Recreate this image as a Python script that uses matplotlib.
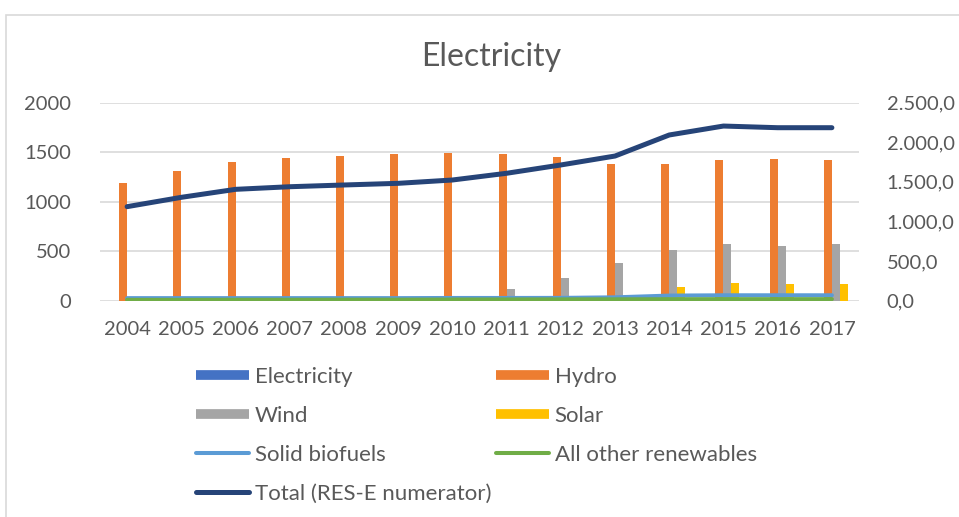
import matplotlib
matplotlib.use("Agg")
import matplotlib.pyplot as plt
import numpy as np
from matplotlib.lines import Line2D
from matplotlib.patches import Rectangle

plt.rcParams['font.family'] = ['Lato', 'DejaVu Sans']

years = ['2004', '2005', '2006', '2007', '2008', '2009', '2010',
         '2011', '2012', '2013', '2014', '2015', '2016', '2017']
electricity = [0, 0, 0, 0, 0, 0, 0, 0, 0, 0, 0, 0, 0, 0]
hydro = [1191, 1309, 1403, 1438, 1461, 1478, 1491,
         1478, 1454, 1383, 1383, 1418, 1434, 1418]
wind = [0, 0, 1, 1, 2, 3, 5, 113, 224, 379, 507, 568, 548, 568]
solar = [0, 0, 0, 0, 0, 0, 0, 0, 0, 5, 140, 174, 164, 164]
solid_biofuels = [30, 30, 30, 30, 30, 30, 32, 32, 33, 40, 62, 66, 66, 66]
other_renewables = [8, 8, 9, 9, 10, 10, 12, 13, 14, 15, 16, 17, 17, 17]
total = [1186, 1304, 1405, 1438, 1460, 1481, 1523,
         1608, 1713, 1826, 2092, 2205, 2184, 2184]

left_ticks = [0, 500, 1000, 1500, 2000]
left_labels = ['0', '500', '1000', '1500', '2000']
right_ticks = [0, 500, 1000, 1500, 2000, 2500]
right_labels = ['0,0', '500,0', '1.000,0', '1.500,0', '2.000,0', '2.500,0']

C_ELEC = '#4472C4'
C_HYDRO = '#ED7D31'
C_WIND = '#A5A5A5'
C_SOLAR = '#FFC000'
C_BIO = '#5B9BD5'
C_OTHER = '#70AD47'
C_TOTAL = '#264478'
TXT = '#595959'

fig = plt.figure(figsize=(9.59, 5.17), dpi=100)
ax = fig.add_axes([100 / 959, 1 - 300.5 / 517, 759 / 959, 197.8 / 517])
ax2 = ax.twinx()

x = np.arange(len(years))
w = 0.147
ax.bar(x - 1.5 * w, electricity, w, color=C_ELEC, zorder=2)
ax.bar(x - 0.5 * w, hydro, w, color=C_HYDRO, zorder=2)
ax.bar(x + 0.5 * w, wind, w, color=C_WIND, zorder=2)
ax.bar(x + 1.5 * w, solar, w, color=C_SOLAR, zorder=2)

ax2.plot(x, solid_biofuels, color=C_BIO, lw=2.9, solid_capstyle='round')
ax2.plot(x, other_renewables, color=C_OTHER, lw=2.9, solid_capstyle='round')
ax2.plot(x, total, color=C_TOTAL, lw=3.6, solid_capstyle='round')

ax.set_xlim(-0.5, len(years) - 0.5)
ax.set_ylim(0, 2000)
ax2.set_ylim(0, 2500)
ax.set_yticks(left_ticks)
ax.set_yticklabels(left_labels)
ax2.set_yticks(right_ticks)
ax2.set_yticklabels(right_labels)
ax.set_xticks(x)
ax.set_xticklabels(years)

ax.grid(axis='y', color='#D9D9D9', lw=1.2, zorder=0)
ax.set_axisbelow(True)
for a in (ax, ax2):
    for s in a.spines.values():
        s.set_visible(False)
    a.tick_params(length=0, labelsize=14.5, labelcolor=TXT)
ax.tick_params(axis='y', pad=21)
ax.tick_params(axis='x', pad=15)
ax2.tick_params(axis='y', pad=20)

fig.text(0.512, 1 - 57 / 517, 'Electricity', ha='center', va='center',
         fontsize=23, color=TXT)

# chart frame
fig.patches.append(Rectangle((6 / 959, -0.1), 1.2, 1 - 15 / 517 + 0.1,
                             transform=fig.transFigure, fill=False,
                             edgecolor='#D9D9D9', lw=1.2))

h_elec = Line2D([], [], color=C_ELEC, lw=7, solid_capstyle='butt')
h_hydro = Line2D([], [], color=C_HYDRO, lw=7, solid_capstyle='butt')
h_wind = Line2D([], [], color=C_WIND, lw=7, solid_capstyle='butt')
h_solar = Line2D([], [], color=C_SOLAR, lw=7, solid_capstyle='butt')
h_bio = Line2D([], [], color=C_BIO, lw=2.9, solid_capstyle='round')
h_other = Line2D([], [], color=C_OTHER, lw=2.9, solid_capstyle='round')
h_total = Line2D([], [], color=C_TOTAL, lw=3.6, solid_capstyle='round')

handles = [h_elec, h_wind, h_bio, h_total, h_hydro, h_solar, h_other]
labels = ['Electricity', 'Wind', 'Solid biofuels', 'Total (RES-E numerator)',
          'Hydro', 'Solar', 'All other renewables']
leg = fig.legend(handles, labels, ncol=2, loc='upper left',
                 bbox_to_anchor=(196 / 959, 1 - 367 / 517),
                 frameon=False, fontsize=16, labelcolor=TXT,
                 handlelength=2.4, handletextpad=0.25, columnspacing=0.2,
                 labelspacing=0.85, borderaxespad=0, borderpad=0)

fig.savefig('out.png', dpi=100)
